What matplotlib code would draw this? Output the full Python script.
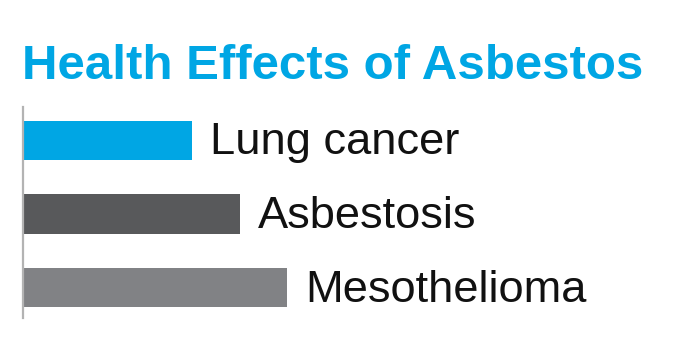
import matplotlib
matplotlib.use("Agg")
import matplotlib.pyplot as plt

categories = ["Lung cancer", "Asbestosis", "Mesothelioma"]
values = [169, 217, 264]
colors = ["#00A6E4", "#58595B", "#818285"]
title = "Health Effects of Asbestos"

W, H = 699, 352
fig = plt.figure(figsize=(W / 100, H / 100), dpi=100)
fig.patch.set_facecolor("white")

ax = fig.add_axes([23 / W, 34 / H, 1 - 23 / W, 211 / H])
ypos = list(range(len(categories)))
ax.barh(ypos, values, height=0.53, color=colors, left=0)
ax.set_xlim(0, W - 23)
ax.set_ylim(2.41, -0.45)

for y, v, c in zip(ypos, values, categories):
    ax.annotate(c, xy=(v, y), xytext=(18, -14), textcoords="offset pixels",
                ha="left", va="baseline", fontsize=32.6,
                family="Liberation Sans", color="#111111")

for s in ["top", "right", "bottom"]:
    ax.spines[s].set_visible(False)
ax.spines["left"].set_color("#b3b3b3")
ax.spines["left"].set_linewidth(1.6)
ax.set_xticks([])
ax.set_yticks([])
ax.set_facecolor("none")

fig.text(22.5 / W, (H - 79) / H, title, ha="left", va="baseline",
         fontsize=35.5, fontweight="bold", family="Liberation Sans",
         color="#00A6E4")

fig.savefig("out.png", dpi=100)
